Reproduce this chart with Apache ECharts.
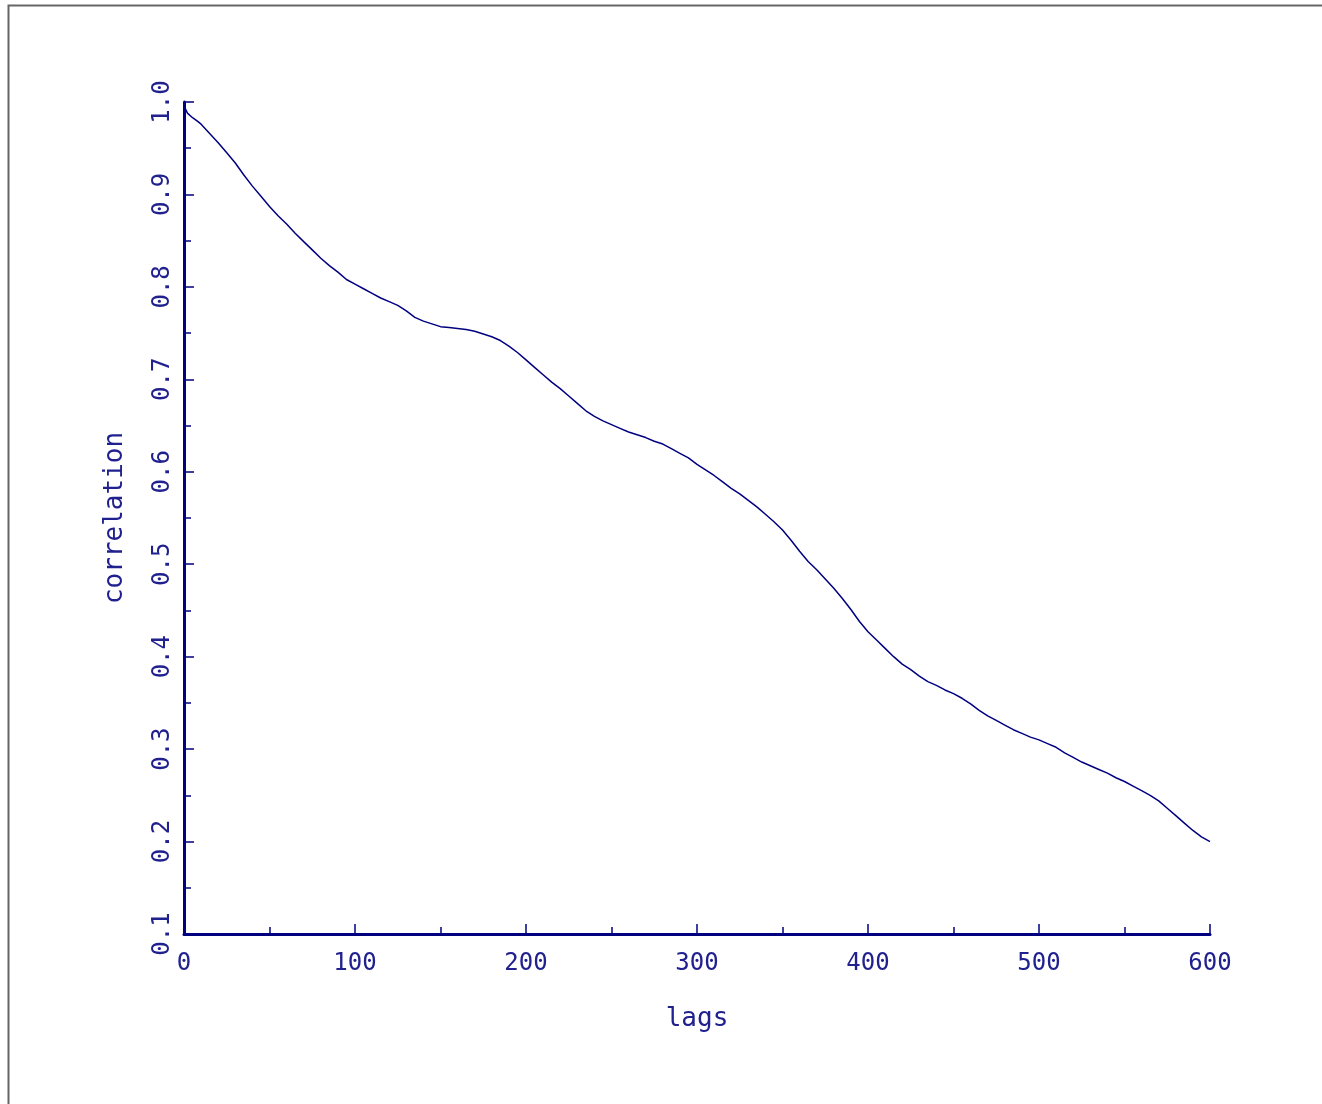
<!DOCTYPE html>
<html>
<head>
<meta charset="utf-8">
<script src="https://cdn.jsdelivr.net/npm/echarts@6/dist/echarts.min.js"></script>
<style>
html,body{margin:0;padding:0;background:#fff;}
#chart{width:1322px;height:1104px;}
</style>
</head>
<body>
<div id="chart"></div>
<script>
var lags = [0,2,5,8,10,15,20,25,30,35,40,45,50,55,60,65,70,75,80,85,90,95,100,105,110,115,120,125,130,135,140,145,150,155,160,165,170,175,180,185,190,195,200,205,210,215,220,225,230,235,240,245,250,255,260,265,270,275,280,285,290,295,300,305,310,315,320,325,330,335,340,345,350,355,360,365,370,375,380,385,390,395,400,405,410,415,420,425,430,435,440,445,450,455,460,465,470,475,480,485,490,495,500,505,510,515,520,525,530,535,540,545,550,555,560,565,570,575,580,585,590,595,600];
var correlation = [0.996,0.988,0.983,0.979,0.976,0.966,0.956,0.945,0.934,0.921,0.909,0.898,0.887,0.877,0.868,0.858,0.849,0.840,0.831,0.823,0.816,0.808,0.803,0.798,0.793,0.788,0.784,0.780,0.774,0.767,0.763,0.760,0.757,0.756,0.755,0.754,0.752,0.749,0.746,0.742,0.736,0.729,0.721,0.713,0.705,0.697,0.690,0.682,0.674,0.666,0.660,0.655,0.651,0.647,0.643,0.640,0.637,0.633,0.630,0.625,0.620,0.615,0.608,0.602,0.596,0.589,0.582,0.576,0.569,0.562,0.554,0.546,0.537,0.526,0.514,0.503,0.494,0.484,0.474,0.463,0.451,0.438,0.427,0.418,0.409,0.400,0.392,0.386,0.379,0.373,0.369,0.364,0.360,0.355,0.349,0.342,0.336,0.331,0.326,0.321,0.317,0.313,0.310,0.306,0.302,0.296,0.291,0.286,0.282,0.278,0.274,0.269,0.265,0.260,0.255,0.250,0.244,0.236,0.228,0.220,0.212,0.205,0.200];
var xTicks = [0,100,200,300,400,500,600];
var yTicks = [0.1,0.2,0.3,0.4,0.5,0.6,0.7,0.8,0.9,1.0];

var navy = '#000080';
var textColor = '#20208f';
var fontFam = 'DejaVu Sans Mono';

var pts = lags.map(function(l,i){ return [l, correlation[i]]; });

var chart = echarts.init(document.getElementById('chart'), null, {renderer:'canvas'});
chart.setOption({
  animation: false,
  backgroundColor: '#fff',
  graphic: [{
    type: 'rect',
    shape: {x: 8.5, y: 5.5, width: 1400, height: 1200},
    style: {fill: 'none', stroke: '#666', lineWidth: 2},
    silent: true
  }],
  grid: {left: 184, right: 112, top: 102, bottom: 170, containLabel: false},
  xAxis: {
    type: 'value',
    min: xTicks[0], max: xTicks[xTicks.length-1], interval: 100,
    name: 'lags', nameLocation: 'middle', nameGap: 72,
    nameTextStyle: {color: textColor, fontFamily: fontFam, fontSize: 26},
    axisLine: {show: true, lineStyle: {color: navy, width: 3}},
    axisTick: {show: true, inside: true, length: 10, lineStyle: {color: navy, width: 1.5}},
    minorTick: {show: true, splitNumber: 2, length: 7, lineStyle: {color: navy, width: 1.5}},
    splitLine: {show: false},
    axisLabel: {color: textColor, fontFamily: fontFam, fontSize: 24, margin: 18, showMinLabel: true, showMaxLabel: true}
  },
  yAxis: {
    type: 'value',
    min: 0.1, max: 1.0, interval: 0.1,
    name: 'correlation', nameLocation: 'middle', nameGap: 56, nameRotate: 90,
    nameTextStyle: {color: textColor, fontFamily: fontFam, fontSize: 26},
    axisLine: {show: true, lineStyle: {color: navy, width: 3}},
    axisTick: {show: true, inside: true, length: 10, lineStyle: {color: navy, width: 1.5}},
    minorTick: {show: true, splitNumber: 2, length: 7, lineStyle: {color: navy, width: 1.5}},
    splitLine: {show: false},
    axisLabel: {color: textColor, fontFamily: fontFam, fontSize: 24, margin: 9, rotate: 90,
      showMinLabel: true, showMaxLabel: true,
      formatter: function(v){ return v.toFixed(1); }}
  },
  series: [{
    type: 'line',
    data: pts,
    showSymbol: false,
    smooth: false,
    lineStyle: {color: navy, width: 1.5},
    silent: true
  }]
});
</script>
</body>
</html>
